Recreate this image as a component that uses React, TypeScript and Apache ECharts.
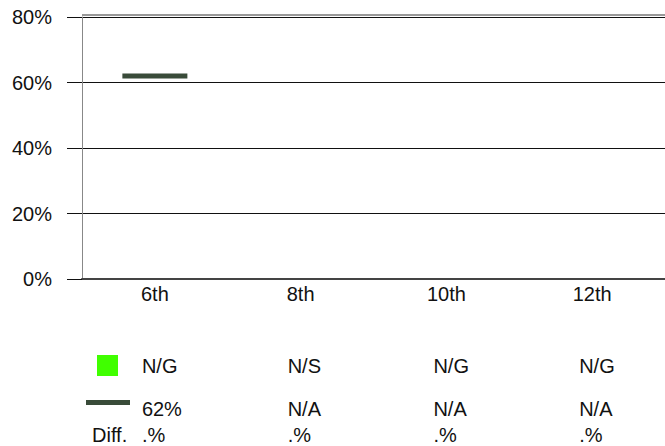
import React, { useEffect, useRef } from "react";
import * as echarts from "echarts";

const categories = ["6th", "8th", "10th", "12th"];
const barValues: (number | null)[] = [null, null, null, null];
const lineValues: (number | null)[] = [62, null, null, null];
const barLabels = ["N/G", "N/S", "N/G", "N/G"];
const lineLabels = ["62%", "N/A", "N/A", "N/A"];
const diffLabels = [".%", ".%", ".%", ".%"];
const yTicks = { min: 0, max: 80, interval: 20 };

const FONT = "'Liberation Sans', Arial, Helvetica, sans-serif";
const GREEN = "#40FF00";
const DARK = "#394B39";

export default function App() {
  const ref = useRef<HTMLDivElement>(null);
  useEffect(() => {
    if (!ref.current) return;
    const chart = echarts.init(ref.current, null, { renderer: "svg" });
    const gridLeft = 82;
    const gridTop = 17;
    const gridBottom = 167;
    chart.setOption({
      animation: false,
      textStyle: { fontFamily: FONT },
      grid: { left: gridLeft, right: 0, top: gridTop, bottom: gridBottom },
      xAxis: {
        type: "category",
        data: categories,
        axisLine: { show: true, lineStyle: { color: "#444", width: 2 } },
        axisTick: { show: false },
        axisLabel: { color: "#111", fontSize: 20, fontFamily: FONT, margin: 5 },
        splitLine: { show: false },
      },
      yAxis: {
        type: "value",
        min: yTicks.min,
        max: yTicks.max,
        interval: yTicks.interval,
        axisLine: { show: true, lineStyle: { color: "#888", width: 1 } },
        axisTick: { show: true, length: 15, lineStyle: { color: "#111", width: 1 } },
        axisLabel: {
          color: "#111",
          fontSize: 20,
          fontFamily: FONT,
          margin: 30,
          formatter: "{value}%",
        },
        splitLine: { show: true, lineStyle: { color: "#111", width: 1 } },
      },
      series: [
        {
          type: "bar",
          data: barValues,
          itemStyle: { color: GREEN },
          barWidth: "45%",
        },
        {
          type: "scatter",
          data: lineValues,
          symbol: "rect",
          symbolSize: [65, 5],
          itemStyle: { color: DARK, opacity: 1 },
          z: 5,
        },
      ],
    });

    const graphic: any[] = [];
    const w = ref.current.clientWidth;
    graphic.push({
      type: "line",
      shape: { x1: gridLeft, y1: 15, x2: w, y2: 15 },
      style: { stroke: "#999", lineWidth: 2 },
      silent: true,
    });
    graphic.push({
      type: "rect",
      shape: { x: 97, y: 355, width: 21, height: 21 },
      style: { fill: GREEN },
    });
    graphic.push({
      type: "rect",
      shape: { x: 86, y: 400, width: 44, height: 5 },
      style: { fill: DARK },
    });
    graphic.push({
      type: "text",
      x: 92,
      y: 435,
      style: {
        text: "Diff.",
        fontSize: 20,
        fontFamily: FONT,
        fill: "#111",
        verticalAlign: "middle",
        align: "left",
      },
    });
    const rows = [
      { labels: barLabels, y: 366 },
      { labels: lineLabels, y: 409 },
      { labels: diffLabels, y: 435 },
    ];
    categories.forEach((c, i) => {
      const cx = chart.convertToPixel({ xAxisIndex: 0 }, c) as number;
      rows.forEach((r) => {
        graphic.push({
          type: "text",
          x: cx - 13,
          y: r.y,
          style: {
            text: r.labels[i],
            fontSize: 20,
            fontFamily: FONT,
            fill: "#111",
            verticalAlign: "middle",
            align: "left",
          },
        });
      });
    });
    chart.setOption({ graphic });
    return () => chart.dispose();
  }, []);
  return (
    <div
      ref={ref}
      style={{ position: "absolute", left: 0, top: 0, width: 665, height: 446, background: "#fff" }}
    />
  );
}
